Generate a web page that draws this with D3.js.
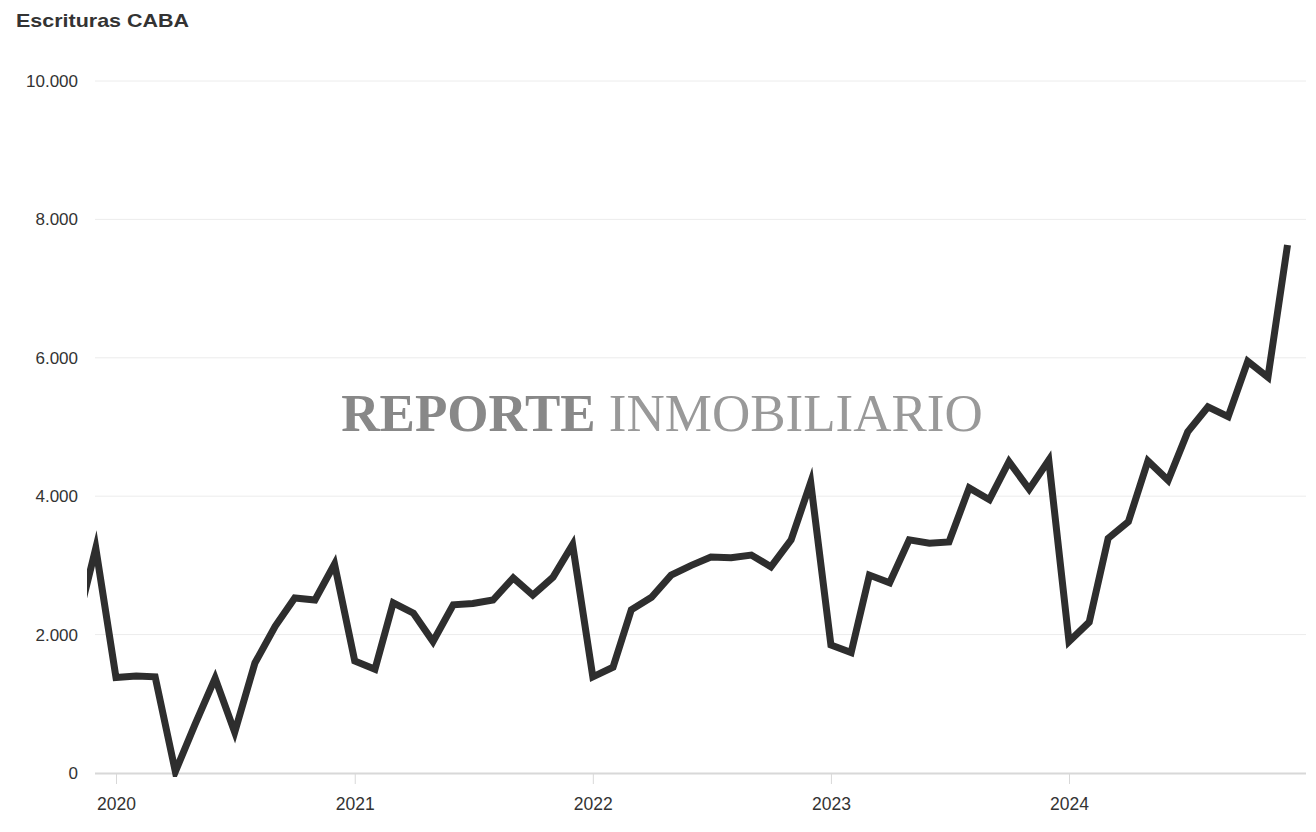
<!DOCTYPE html>
<html>
<head>
<meta charset="utf-8">
<script src="https://cdn.jsdelivr.net/npm/d3@7"></script>
<style>
  body { margin: 0; background: #fff; }
  text { font-family: "Liberation Sans", Arial, sans-serif; }
</style>
</head>
<body>
<div id="chart"></div>
<script>
// monthly deeds, Nov 2019 .. Dec 2024
const months = d3.timeMonths(new Date(2019, 10, 1), new Date(2025, 0, 1));
const escrituras = [
  2100, 3250,
  1380, 1400, 1390, 20, 700, 1370, 590, 1590, 2120, 2530, 2500, 3020,
  1620, 1500, 2460, 2310, 1900, 2430, 2450, 2500, 2820, 2570, 2830, 3300,
  1390, 1530, 2360, 2540, 2860, 3000, 3120, 3110, 3150, 2980, 3370, 4200,
  1850, 1740, 2860, 2750, 3370, 3320, 3340, 4120, 3950, 4500, 4100, 4520,
  1900, 2180, 3390, 3630, 4510, 4230, 4930, 5290, 5150, 5950, 5720, 7630
];
const yTicks = [0, 2000, 4000, 6000, 8000, 10000];
const yearTicks = [2020, 2021, 2022, 2023, 2024];

const data = months.map((d, i) => ({ date: d, value: escrituras[i] }));

const w = 1316, h = 832;
const plotLeft = 95, plotRight = 1306, plotTop = 81, plotBottom = 773;

const fmt = d3.formatLocale({ decimal: ",", thousands: ".", grouping: [3], currency: ["$", ""] }).format(",d");

const svg = d3.select("#chart").append("svg")
  .attr("width", w)
  .attr("height", h);

const x = d3.scaleTime()
  .domain([new Date(2020, 0, 1), new Date(2024, 0, 1)])
  .range([116, 1069]);

const y = d3.scaleLinear()
  .domain([0, 10000])
  .range([plotBottom, plotTop]);

// title
svg.append("text")
  .attr("x", 16)
  .attr("y", 27)
  .attr("font-size", 18.5)
  .attr("font-weight", "bold")
  .attr("fill", "#333")
  .attr("textLength", 173)
  .attr("lengthAdjust", "spacingAndGlyphs")
  .text("Escrituras CABA");

// grid
svg.append("g").selectAll("line")
  .data(yTicks.filter(d => d > 0))
  .join("line")
  .attr("x1", plotLeft).attr("x2", plotRight)
  .attr("y1", d => y(d)).attr("y2", d => y(d))
  .attr("stroke", "#ececec")
  .attr("stroke-width", 1);

// y labels
svg.append("g").selectAll("text")
  .data(yTicks)
  .join("text")
  .attr("x", 78)
  .attr("y", d => y(d))
  .attr("dy", "0.35em")
  .attr("text-anchor", "end")
  .attr("font-size", 17)
  .attr("fill", "#333")
  .text(d => fmt(d));

// watermark
const wm = svg.append("text")
  .attr("x", 662)
  .attr("y", 431)
  .attr("text-anchor", "middle")
  .attr("font-size", 53)
  .attr("fill", "#888")
  .style("font-family", "'Liberation Serif', 'DejaVu Serif', serif");
wm.append("tspan").attr("font-weight", "bold").text("REPORTE ");
wm.append("tspan").attr("fill", "#999").text("INMOBILIARIO");

// x axis
const xAxis = svg.append("g")
  .attr("transform", `translate(0,${plotBottom})`)
  .call(d3.axisBottom(x)
    .tickValues(yearTicks.map(yr => new Date(yr, 0, 1)))
    .tickFormat(d3.timeFormat("%Y"))
    .tickSize(11)
    .tickPadding(14));
xAxis.select(".domain").remove();
xAxis.append("line")
  .attr("x1", plotLeft).attr("x2", plotRight)
  .attr("y1", 0.5).attr("y2", 0.5)
  .attr("stroke", "#d8d8d8")
  .attr("stroke-width", 2);
xAxis.selectAll(".tick line").attr("stroke", "#d8d8d8");
xAxis.selectAll(".tick text")
  .attr("font-size", 17.5)
  .attr("fill", "#333")
  .style("font-family", "'Liberation Sans', Arial, sans-serif");

// line
svg.append("clipPath").attr("id", "clip")
  .append("rect")
  .attr("x", 87).attr("y", 0)
  .attr("width", plotRight - 87).attr("height", plotBottom + 4);

const line = d3.line()
  .x(d => x(d.date))
  .y(d => y(d.value));

svg.append("path")
  .datum(data)
  .attr("clip-path", "url(#clip)")
  .attr("fill", "none")
  .attr("stroke", "#2e2e2e")
  .attr("stroke-width", 7)
  .attr("stroke-linejoin", "miter")
  .attr("stroke-miterlimit", 10)
  .attr("d", line);
</script>
</body>
</html>
